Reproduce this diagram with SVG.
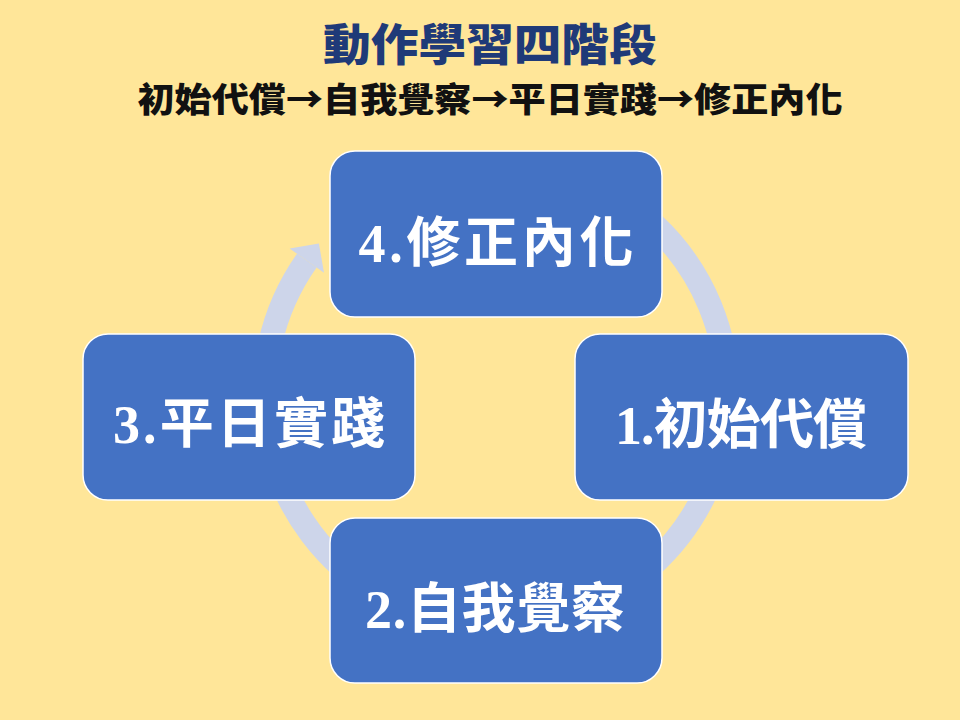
<svg xmlns="http://www.w3.org/2000/svg" width="960" height="720" viewBox="0 0 960 720">
<style>
.node rect{fill:#4472C4;stroke:#FFFFFF;stroke-width:1.5}
.lbl{fill:#FFFFFF;font-family:"Liberation Serif","Noto Sans CJK TC",serif;font-weight:bold;font-size:54px;text-anchor:middle}
.title{fill:#1F3A78;font-family:"Noto Sans CJK TC",sans-serif;font-weight:900;font-size:44px;text-anchor:middle}
.sub{fill:#111111;font-family:"Noto Sans CJK TC",sans-serif;font-weight:900;font-size:34px;text-anchor:middle}
.ring{fill:none;stroke:#CDD5EA;stroke-width:24}
</style>
<rect x="0" y="0" width="960" height="720" fill="#FFE699"/>
<text class="title" x="490" y="61" textLength="334" lengthAdjust="spacingAndGlyphs">動作學習四階段</text>
<text class="sub" x="490" y="112" textLength="705" lengthAdjust="spacingAndGlyphs">初始代償→自我覺察→平日實踐→修正內化</text>
<g id="connectors">
<path class="ring" d="M 575.2 176.5 A 231.5 231.5 0 1 1 306.8 260.6"/>
<polygon points="289.6,248.5 318.9,243.4 324,272.7" fill="#CDD5EA"/>
</g>
<g id="node4" class="node">
<rect x="330" y="151" width="332" height="166" rx="25" ry="25"/>
<text class="lbl" x="496" y="262" textLength="275" lengthAdjust="spacing">4.修正內化</text>
</g>
<g id="node1" class="node">
<rect x="575" y="334" width="333" height="166" rx="25" ry="25"/>
<text class="lbl" x="741" y="444" textLength="252" lengthAdjust="spacing">1.初始代償</text>
</g>
<g id="node3" class="node">
<rect x="83" y="334" width="332" height="166" rx="25" ry="25"/>
<text class="lbl" x="249" y="443" textLength="272" lengthAdjust="spacing">3.平日實踐</text>
</g>
<g id="node2" class="node">
<rect x="330" y="518" width="332" height="165" rx="25" ry="25"/>
<text class="lbl" x="495" y="628" textLength="260" lengthAdjust="spacing">2.自我覺察</text>
</g>
</svg>
